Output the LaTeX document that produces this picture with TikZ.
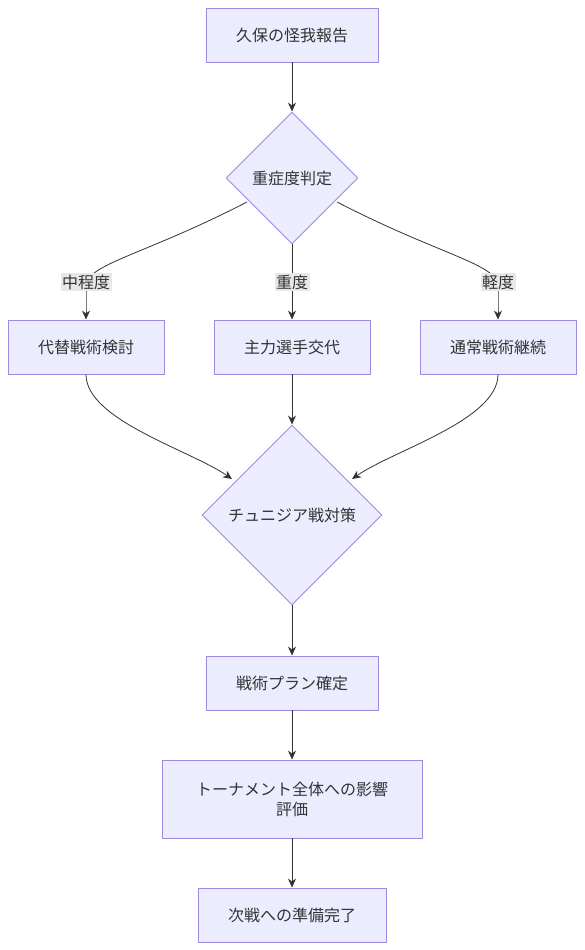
\documentclass[tikz,border=0pt]{standalone}
\usepackage{fontspec}
\setmainfont{Noto Sans CJK JP}
\usetikzlibrary{shapes.geometric,arrows.meta}
\definecolor{nodefill}{HTML}{ECECFF}
\definecolor{nodeedge}{HTML}{A08AE0}
\definecolor{edgecol}{HTML}{333333}
\definecolor{labbg}{HTML}{E8E8E8}
\begin{document}
\begin{tikzpicture}[x=1pt,y=-1pt,
  box/.style={draw=nodeedge,fill=nodefill,line width=0.9pt,inner sep=0pt,font=\fontsize{16}{20}\selectfont,align=center,text=edgecol},
  dia/.style={draw=nodeedge,fill=nodefill,line width=0.9pt,diamond,shape aspect=1,inner sep=0pt,font=\fontsize{16}{20}\selectfont,text=edgecol},
  lab/.style={fill=labbg,inner sep=1.5pt,font=\fontsize{16}{20}\selectfont,text=edgecol},
  conn/.style={draw=edgecol,line width=0.8pt,-{Stealth[length=9pt,width=8pt]}},
  line/.style={draw=edgecol,line width=0.8pt}]
\useasboundingbox (0,0) rectangle (584,950);
\fill[white] (0,0) rectangle (584,950);

\node[box,minimum width=172pt,minimum height=54pt] (a) at (292,35) {久保の怪我報告};
\node[dia,minimum width=132pt,minimum height=132pt] (b) at (292,178) {重症度判定};
\node[box,minimum width=156pt,minimum height=54pt] (c1) at (86,347) {代替戦術検討};
\node[box,minimum width=156pt,minimum height=54pt] (c2) at (292,347) {主力選手交代};
\node[box,minimum width=156pt,minimum height=54pt] (c3) at (498,347) {通常戦術継続};
\node[dia,minimum width=180pt,minimum height=180pt] (d) at (292,515) {チュニジア戦対策};
\node[box,minimum width=172pt,minimum height=54pt] (e) at (292,683) {戦術プラン確定};
\node[box,minimum width=260pt,minimum height=78pt] (f) at (292,799) {トーナメント全体への影響\\評価};
\node[box,minimum width=188pt,minimum height=54pt] (g) at (292,915) {次戦への準備完了};

\coordinate (l1) at (86,282);
\coordinate (l2) at (292,282);
\coordinate (l3) at (498,282);
\coordinate (bl) at (247,202);
\coordinate (br) at (337,202);
\coordinate (dl) at (232,479);
\coordinate (dr) at (352,479);

\draw[conn] (a) -- (b);
\draw[line] (bl) .. controls (150,252) and (96,262) .. (l1);
\draw[conn] (l1) .. controls (86,300) .. (c1.north);
\draw[conn] (b) -- (c2);
\draw[line] (br) .. controls (434,252) and (488,262) .. (l3);
\draw[conn] (l3) .. controls (498,300) .. (c3.north);

\node[lab] (t1) at (l1) {中程度};
\node[lab] (t2) at (l2) {重度};
\node[lab] (t3) at (l3) {軽度};

\draw[conn] (c1.south) .. controls (86,420) and (190,450) .. (dl);
\draw[conn] (c2) -- (d);
\draw[conn] (c3.south) .. controls (498,420) and (394,450) .. (dr);
\draw[conn] (d) -- (e);
\draw[conn] (e) -- (f);
\draw[conn] (f) -- (g);
\end{tikzpicture}
\end{document}
